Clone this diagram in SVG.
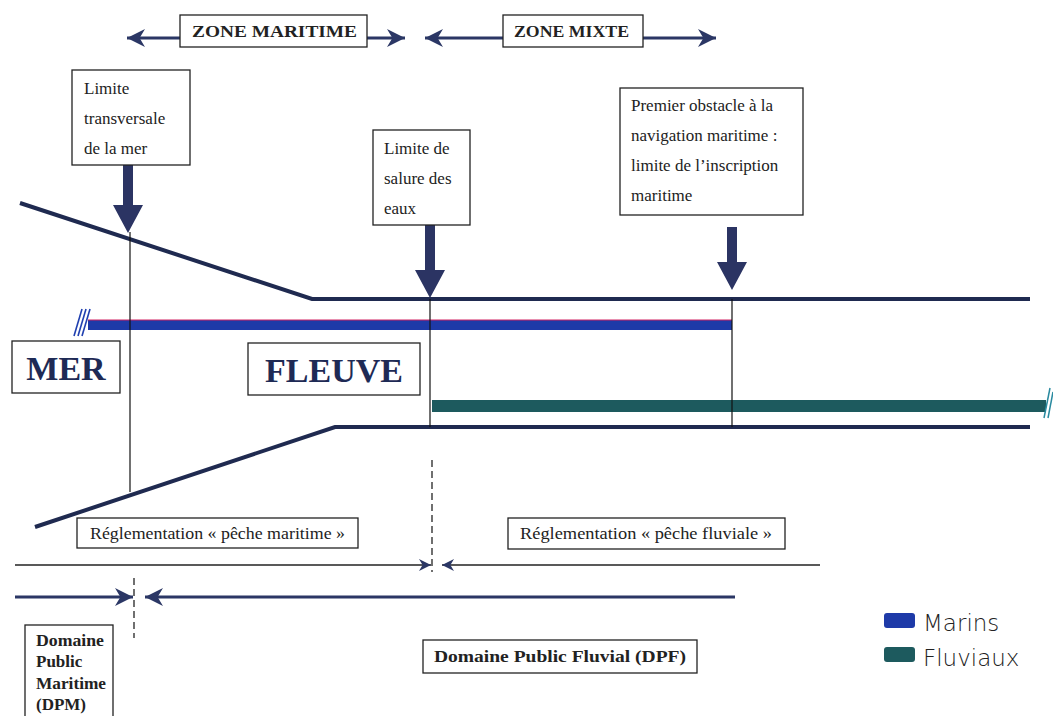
<svg xmlns="http://www.w3.org/2000/svg" width="1053" height="716" viewBox="0 0 1053 716">
<style>
.box{fill:#fff;stroke:#222;stroke-width:1.3}
.t{font-family:"Liberation Serif",serif;font-size:17px;fill:#222}
.tb{font-family:"Liberation Serif",serif;font-size:17px;font-weight:bold;fill:#222}
.big{font-family:"Liberation Serif",serif;font-size:34px;font-weight:bold;fill:#1e2a55}
.bank{fill:none;stroke:#1f2a50;stroke-width:4;stroke-linejoin:miter}
.thin{stroke:#111;stroke-width:1.2;fill:none}
.dash{stroke:#111;stroke-width:1.2;stroke-dasharray:7,4;fill:none}
.zl{stroke:#2b3765;stroke-width:3;fill:none}
.hand{font-family:"DejaVu Sans",sans-serif;font-size:23px;fill:#222;font-weight:300}
</style>
<defs>
<marker id="ah" viewBox="0 0 10 10" refX="10" refY="5" markerWidth="12" markerHeight="12" markerUnits="userSpaceOnUse" orient="auto-start-reverse">
<path d="M0,0 L10,5 L0,10 L3,5 Z" fill="#2b3765"/>
</marker>
<marker id="zm" viewBox="0 0 10 10" refX="10" refY="5" markerWidth="18" markerHeight="18" markerUnits="userSpaceOnUse" orient="auto-start-reverse">
<path d="M0,0 L10,5 L0,10 L3,5 Z" fill="#2b3765"/>
</marker>
</defs>
<rect width="1053" height="716" fill="#fff"/>

<g id="connectors">
<line class="zl" x1="127" y1="38" x2="180" y2="38" marker-start="url(#zm)"/>
<line class="zl" x1="367" y1="38" x2="405" y2="38" marker-end="url(#zm)"/>
<line class="zl" x1="425" y1="38" x2="503" y2="38" marker-start="url(#zm)"/>
<line class="zl" x1="643" y1="38" x2="716" y2="38" marker-end="url(#zm)"/>
<path d="M123,165 H133 V205 H143 L128,233 L113,205 H123 Z" fill="#2b3463"/>
<path d="M425,225 H435 V270 H445 L430,298 L415,270 H425 Z" fill="#2b3463"/>
<path d="M727,227 H737 V262 H747 L732,290 L717,262 H727 Z" fill="#2b3463"/>
<polyline class="bank" points="20,203 312,299 1030,299"/>
<polyline class="bank" points="35,527 335,427 1030,427"/>
<rect x="88" y="320" width="644" height="10" fill="#1e3aa8"/>
<line x1="88" y1="320" x2="732" y2="320" stroke="#d02060" stroke-width="1"/>
<line x1="74" y1="336" x2="82" y2="309" stroke="#2040b0" stroke-width="1.6"/>
<line x1="78" y1="336" x2="86" y2="309" stroke="#2040b0" stroke-width="1.6"/>
<line x1="82" y1="336" x2="90" y2="309" stroke="#2040b0" stroke-width="1.6"/>
<rect x="432" y="400" width="614" height="12" fill="#1d5a5e"/>
<line x1="1044" y1="418" x2="1050" y2="388" stroke="#2a8aa0" stroke-width="1.5"/>
<line x1="1048" y1="418" x2="1053" y2="392" stroke="#2a8aa0" stroke-width="1.5"/>
<line class="thin" x1="130" y1="232" x2="130" y2="492"/>
<line class="thin" x1="430" y1="299" x2="430" y2="427"/>
<line class="thin" x1="732" y1="299" x2="732" y2="427"/>
<line class="dash" x1="432" y1="460" x2="432" y2="572"/>
<line class="dash" x1="134" y1="578" x2="134" y2="638"/>
<line x1="15" y1="565" x2="431" y2="565" stroke="#222" stroke-width="1.3" marker-end="url(#ah)"/>
<line x1="442" y1="565" x2="820" y2="565" stroke="#222" stroke-width="1.3" marker-start="url(#ah)"/>
<line x1="15" y1="597" x2="133" y2="597" stroke="#2b3765" stroke-width="3" marker-end="url(#zm)"/>
<line x1="145" y1="597" x2="735" y2="597" stroke="#2b3765" stroke-width="3" marker-start="url(#zm)"/>
</g>

<g id="zone-maritime">
<rect class="box" x="180" y="15" width="187" height="32"/>
<text class="tb" x="192" y="37" textLength="165" lengthAdjust="spacingAndGlyphs">ZONE MARITIME</text>
</g>
<g id="zone-mixte">
<rect class="box" x="503" y="15" width="140" height="32"/>
<text class="tb" x="514" y="37" textLength="115" lengthAdjust="spacingAndGlyphs">ZONE MIXTE</text>
</g>

<g id="limite-transversale">
<rect class="box" x="72" y="70" width="118" height="95"/>
<text class="t" x="84" y="94">Limite</text>
<text class="t" x="84" y="124">transversale</text>
<text class="t" x="84" y="154">de la mer</text>
</g>
<g id="limite-salure">
<rect class="box" x="373" y="130" width="97" height="95"/>
<text class="t" x="384" y="154">Limite de</text>
<text class="t" x="384" y="184">salure des</text>
<text class="t" x="384" y="214">eaux</text>
</g>
<g id="premier-obstacle">
<rect class="box" x="620" y="88" width="183" height="127"/>
<text class="t" x="631" y="111">Premier obstacle à la</text>
<text class="t" x="631" y="141">navigation maritime :</text>
<text class="t" x="631" y="171">limite de l’inscription</text>
<text class="t" x="631" y="201">maritime</text>
</g>

<g id="mer">
<rect class="box" x="12" y="341" width="108" height="52"/>
<text class="big" x="66" y="380" text-anchor="middle">MER</text>
</g>
<g id="fleuve">
<rect class="box" x="248" y="343" width="172" height="52"/>
<text class="big" x="334" y="382" text-anchor="middle">FLEUVE</text>
</g>

<g id="reg-maritime">
<rect class="box" x="77" y="518" width="281" height="30"/>
<text class="t" x="90" y="539" textLength="255" lengthAdjust="spacingAndGlyphs">Réglementation « pêche maritime »</text>
</g>
<g id="reg-fluviale">
<rect class="box" x="508" y="518" width="277" height="31"/>
<text class="t" x="520" y="539" textLength="252" lengthAdjust="spacingAndGlyphs">Réglementation « pêche fluviale »</text>
</g>

<g id="dpm">
<rect class="box" x="25" y="625" width="88" height="95"/>
<text class="tb" x="36" y="646" textLength="68" lengthAdjust="spacingAndGlyphs">Domaine</text>
<text class="tb" x="36" y="667">Public</text>
<text class="tb" x="36" y="689" textLength="70" lengthAdjust="spacingAndGlyphs">Maritime</text>
<text class="tb" x="36" y="710">(DPM)</text>
</g>
<g id="dpf">
<rect class="box" x="423" y="640" width="274" height="33"/>
<text class="tb" x="434" y="662" textLength="252" lengthAdjust="spacingAndGlyphs">Domaine Public Fluvial (DPF)</text>
</g>

<g id="legend">
<rect x="884" y="613" width="31" height="15" rx="3" fill="#1e3aa8"/>
<text class="hand" x="923" y="631">Marins</text>
<rect x="884" y="647" width="31" height="15" rx="3" fill="#1d5a5e"/>
<text class="hand" x="923" y="666">Fluviaux</text>
</g>
</svg>
